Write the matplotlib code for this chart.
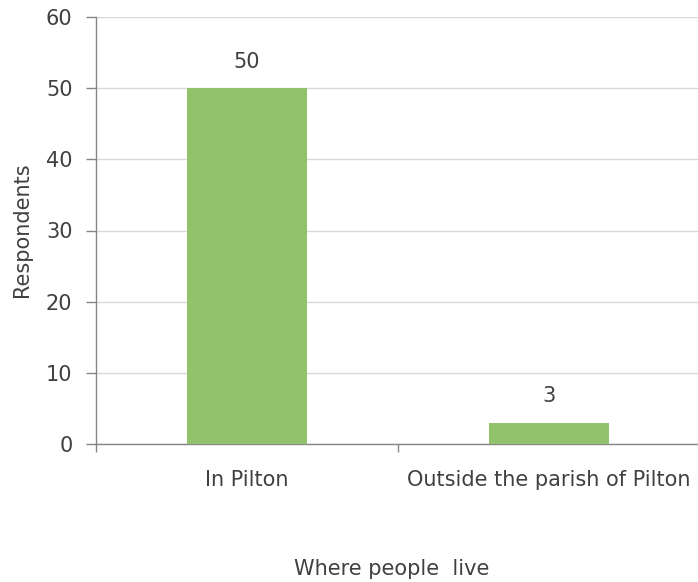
import matplotlib
matplotlib.use("Agg")
import matplotlib.pyplot as plt

categories = ["In Pilton", "Outside the parish of Pilton"]
respondents = [50, 3]
y_ticks = [0, 10, 20, 30, 40, 50, 60]

bar_color = "#92C26C"
axis_color = "#868686"
grid_color = "#D9D9D9"
text_color = "#404040"
font_size = 15

plt.rcParams["font.family"] = ["DejaVu Sans"]

fig = plt.figure(figsize=(6.98, 5.82), dpi=100)
W, H = 698, 582
left, right, bottom, top = 96, 700, 444, 17
ax = fig.add_axes([left / W, 1 - bottom / H, (right - left) / W, (bottom - top) / H])

x = list(range(len(categories)))
bars = ax.bar(x, respondents, width=0.4, color=bar_color, zorder=3)

ax.set_xlim(-0.5, len(categories) - 0.5)
ax.set_ylim(0, 60)
ax.set_yticks(y_ticks)
ax.yaxis.grid(True, color=grid_color, linewidth=1.0, zorder=0)

ax.set_xticks(x)
ax.set_xticklabels(categories)
ax.set_xticks([i - 0.5 for i in range(len(categories) + 1)], minor=True)
ax.tick_params(axis="x", which="major", length=0, pad=19, labelsize=font_size, labelcolor=text_color)
ax.tick_params(axis="x", which="minor", length=6, color=axis_color, width=1)
ax.tick_params(axis="y", length=7, color=axis_color, width=1, pad=10, labelsize=font_size, labelcolor=text_color)

for side in ("top", "right"):
    ax.spines[side].set_visible(False)
for side in ("left", "bottom"):
    ax.spines[side].set_color(axis_color)
    ax.spines[side].set_linewidth(1.0)

for xi, v in zip(x, respondents):
    ax.annotate(str(v), (xi, v), xytext=(0, 12), textcoords="offset points",
                ha="center", va="bottom", fontsize=font_size, color=text_color)

fig.text(22 / W, 1 - 230 / H, "Respondents", rotation=90, ha="center", va="center",
         fontsize=font_size, color=text_color)
fig.text(392 / W, 1 - 569 / H, "Where people  live", ha="center", va="center",
         fontsize=font_size, color=text_color)

fig.savefig("out.png", dpi=100)
